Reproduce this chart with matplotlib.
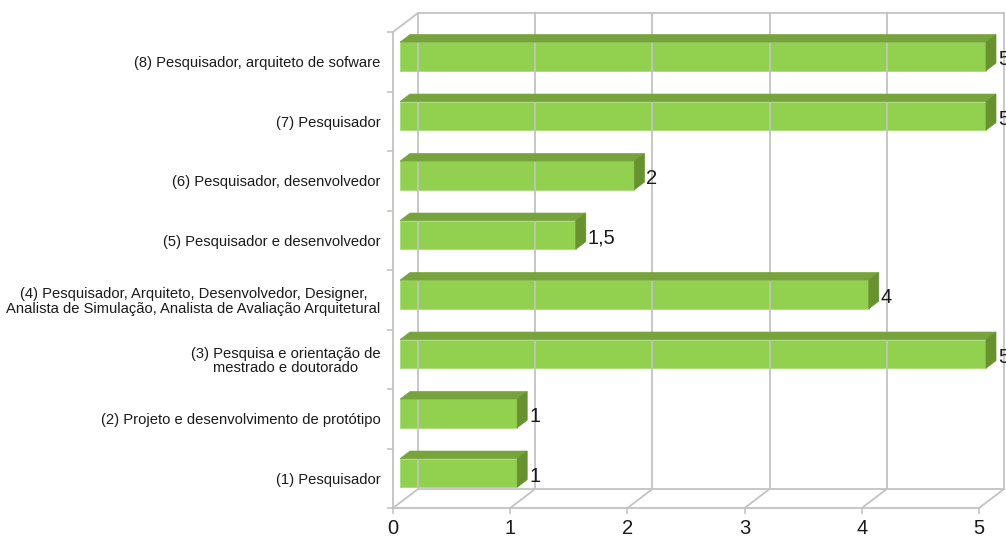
import matplotlib
matplotlib.use('Agg')
import matplotlib.pyplot as plt
from matplotlib.patches import Polygon
from matplotlib.lines import Line2D
from matplotlib.transforms import Affine2D, IdentityTransform

# Dados do gráfico (de baixo para cima)
categorias = [
    "(1) Pesquisador",
    "(2) Projeto e desenvolvimento de protótipo",
    "(3) Pesquisa e orientação de\nmestrado e doutorado",
    "(4) Pesquisador, Arquiteto, Desenvolvedor, Designer,\nAnalista de Simulação, Analista de Avaliação Arquitetural",
    "(5) Pesquisador e desenvolvedor",
    "(6) Pesquisador, desenvolvedor",
    "(7) Pesquisador",
    "(8) Pesquisador, arquiteto de sofware",
]
valores = [1, 1, 5, 4, 1.5, 2, 5, 5]
ticks_x = [0, 1, 2, 3, 4, 5]
rotulos_valor = ["1", "1", "5", "4", "1,5", "2", "5", "5"]

# Efeito 3D : profundidade em pixels
DX, DY = 25, 19
D1, D2 = 0.28, 0.68     # faces frontal e traseira das barras
ALTURA = 0.48

COR_FRENTE = '#92d050'
COR_TOPO = '#76a33c'
COR_LADO = '#67922f'
COR_GRADE = '#c3c3c3'
FONTE = 'Liberation Sans'

fig = plt.figure(figsize=(10.06, 5.4), dpi=100)
ax = fig.add_axes([393 / 1006, 32 / 540, 586 / 1006, 476 / 540])
ax.set_xlim(0, 5)
ax.set_ylim(-0.5, 7.5)

for s in ['top', 'right']:
    ax.spines[s].set_visible(False)
for s in ['left', 'bottom']:
    ax.spines[s].set_color(COR_GRADE)
    ax.spines[s].set_linewidth(1.3)

ax.set_xticks(ticks_x)
ax.set_xticklabels([str(t) for t in ticks_x], family=FONTE, fontsize=14.5, color='#1a1a1a')
ax.tick_params(axis='x', length=4, width=1.2, color=COR_GRADE, pad=4)
ax.set_yticks(range(len(categorias)))
ax.set_yticklabels(categorias, family=FONTE, fontsize=10.6, color='#1a1a1a')
ax.tick_params(axis='y', length=0, pad=9)
ax.set_yticks([i - 0.5 for i in range(len(categorias) + 1)], minor=True)
ax.tick_params(axis='y', which='minor', length=4, width=1.2, color=COR_GRADE)
for lab in ax.get_yticklabels():
    lab.set_multialignment('center')
    lab.set_linespacing(1.05)

fig.canvas.draw()


def px(x, y, d):
    """Coordenada de tela (pixels) de um ponto (valor, categoria, profundidade)."""
    X, Y = ax.transData.transform((x, y))
    return X + d * DX, Y + d * DY


def linha(p0, p1, **kw):
    fig.add_artist(Line2D([p0[0], p1[0]], [p0[1], p1[1]], transform=IdentityTransform(),
                          color=COR_GRADE, lw=1.3, zorder=0.5, **kw))


ymin, ymax = -0.5, 7.5
# parede do fundo e piso
for t in ticks_x:
    linha(px(t, ymin, 1), px(t, ymax, 1))
    linha(px(t, ymin, 0), px(t, ymin, 1))
linha(px(0, ymax, 1), px(5, ymax, 1))
linha(px(0, ymin, 1), px(5, ymin, 1))
linha(px(0, ymax, 0), px(0, ymax, 1))

# barras : face frontal via barh deslocada, topo e lateral como polígonos
desloc = ax.transData + Affine2D().translate(D1 * DX, D1 * DY)
y_pos = list(range(len(categorias)))
ax.barh(y_pos, valores, height=ALTURA, color=COR_FRENTE, edgecolor='#a9dc78',
        linewidth=0.6, transform=desloc, clip_on=False, zorder=3)

for i, v in enumerate(valores):
    y0, y1 = i - ALTURA / 2, i + ALTURA / 2
    topo = [px(0, y1, D1), px(v, y1, D1), px(v, y1, D2), px(0, y1, D2)]
    lado = [px(v, y0, D1), px(v, y1, D1), px(v, y1, D2), px(v, y0, D2)]
    fig.add_artist(Polygon(topo, closed=True, transform=IdentityTransform(),
                           facecolor=COR_TOPO, edgecolor=COR_TOPO, lw=0.5, zorder=3))
    fig.add_artist(Polygon(lado, closed=True, transform=IdentityTransform(),
                           facecolor=COR_LADO, edgecolor=COR_LADO, lw=0.5, zorder=3))
    xr, _ = px(v, i, D2)
    _, yc = px(v, i, 0.1)
    fig.text(xr + 2, yc, rotulos_valor[i], transform=IdentityTransform(),
             ha='left', va='center', family=FONTE, fontsize=14.5,
             color='#1a1a1a', zorder=4)

fig.savefig('out.png', dpi=100)
